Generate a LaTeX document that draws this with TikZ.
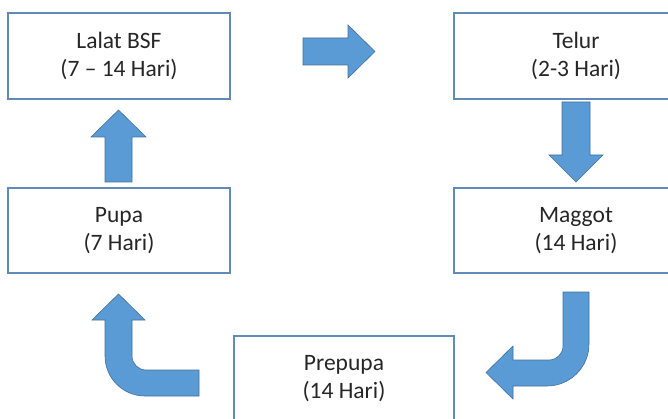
\documentclass[tikz,border=0pt]{standalone}
\usepackage{fontspec}
\setmainfont{Carlito}
\definecolor{boxline}{RGB}{96,138,184}
\definecolor{arrfill}{RGB}{91,155,213}
\definecolor{arrline}{RGB}{65,113,156}
\definecolor{txt}{RGB}{38,38,38}
\tikzset{
  stage/.style={draw=boxline, line width=1.4pt, fill=white, align=center,
    text=txt, inner sep=0pt, outer sep=0pt,
    font=\fontsize{23.5}{28}\selectfont},
  blockarrow/.style={fill=arrfill, draw=arrline, line width=0.6pt, line join=miter}
}
\begin{document}
\begin{tikzpicture}[x=1pt,y=-1pt]
\useasboundingbox (0,0) rectangle (668,419);
\clip (0,0) rectangle (668,419);
% stages
\node[stage, minimum width=222pt, minimum height=86pt] (lalat) at (119,56) {Lalat BSF\\(7 – 14 Hari)};
\node[stage, minimum width=244pt, minimum height=86pt] (telur) at (576,56) {Telur\\(2-3 Hari)};
\node[stage, minimum width=244pt, minimum height=85pt] (maggot) at (576,230.5) {Maggot\\(14 Hari)};
\node[stage, minimum width=222pt, minimum height=85pt] (pupa) at (119,230.5) {Pupa\\(7 Hari)};
\node[stage, minimum width=220pt, minimum height=86pt] (prepupa) at (344,379) {Prepupa\\(14 Hari)};
% right arrow: lalat -> telur
\draw[blockarrow] (303,38) -- (348,38) -- (348,25) -- (375,51.5) -- (348,78) -- (348,65) -- (303,65) -- cycle;
% down arrow: telur -> maggot
\draw[blockarrow] (562,102) -- (590,102) -- (590,155) -- (603,155) -- (576,182) -- (549,155) -- (562,155) -- cycle;
% bent arrow: maggot -> prepupa
\draw[blockarrow] (563,292) -- (589,292) -- (589,344) arc[start angle=0, end angle=90, radius=42] -- (513,386) -- (513,399) -- (486,372.5) -- (513,346) -- (513,360) -- (549,360) arc[start angle=90, end angle=0, radius=14] -- cycle;
% bent arrow: prepupa -> pupa
\draw[blockarrow] (199,370) -- (199,396) -- (145,396) arc[start angle=90, end angle=180, radius=40] -- (105,320) -- (92,320) -- (118.5,294) -- (145,320) -- (132,320) -- (132,356) arc[start angle=180, end angle=90, radius=14] -- cycle;
% up arrow: pupa -> lalat
\draw[blockarrow] (105,182) -- (132,182) -- (132,137) -- (146,137) -- (118.5,110) -- (91,137) -- (105,137) -- cycle;
\end{tikzpicture}
\end{document}
